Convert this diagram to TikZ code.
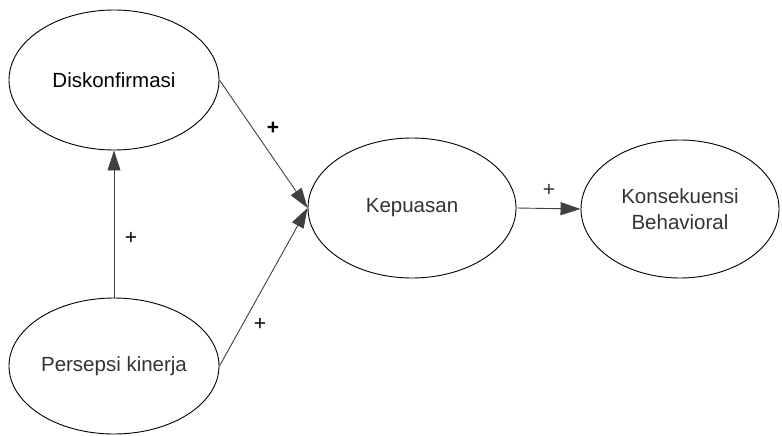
\documentclass[tikz,border=0pt]{standalone}
\usepackage{fontspec}
\setmainfont{Liberation Sans}
\usetikzlibrary{arrows.meta}
\usetikzlibrary{shapes.geometric}
\tikzset{var/.style = {draw, ellipse, inner sep = 0, line width = 0.9pt,
                       minimum width = 210, minimum height = 140,
                       align = center, font = \fontsize{20.5}{26}\selectfont}}
\tikzset{link/.style = {draw = black!75, line width = 0.9pt,
                        -{Triangle[length=20pt, width=13pt]}}}
\tikzset{sign/.style = {font = \fontsize{21}{24}\selectfont}}
\definecolor{tgrey}{rgb}{0.2, 0.2, 0.2}

\begin{document}
\begin{tikzpicture}[x=1pt, y=-1pt]
    \useasboundingbox (0, 0) rectangle (782, 436);
    \node [var] (diskon) at (114, 80) {Diskonfirmasi};
    \node [var, tgrey, draw = black, minimum height = 136] (persepsi) at (114, 366) {Persepsi kinerja};
    \node [var, tgrey, draw = black, minimum width = 208] (puas) at (412, 208) {Kepuasan};
    \node [var, tgrey, draw = black, minimum width = 198, minimum height = 138] (konsek) at (680, 209) {Konsekuensi\\Behavioral};
    \draw [link] (persepsi.north) -- (diskon.south);
    \draw [link] (diskon.east) -- (puas.west);
    \draw [link] (persepsi.east) -- (puas.west);
    \draw [link] (puas.east) -- (konsek.west);
    \node [sign] (s1) at (131, 238) {+};
    \node [sign] (s2) at (273, 128) {\textbf{+}};
    \node [sign] (s3) at (260, 324) {+};
    \node [sign, tgrey] (s4) at (549, 190) {+};
  \end{tikzpicture}
\end{document}
